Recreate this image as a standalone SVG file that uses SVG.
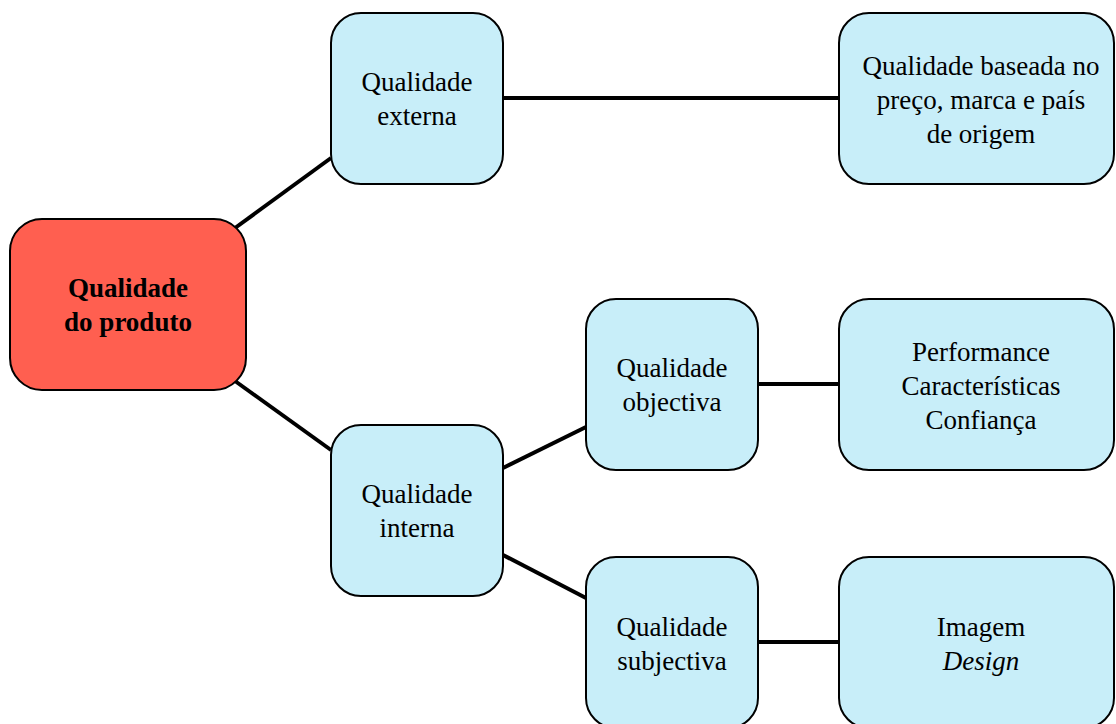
<svg xmlns="http://www.w3.org/2000/svg" width="1116" height="724" viewBox="0 0 1116 724">
  <style>
    .box { fill: #c8eef9; stroke: #000; stroke-width: 2; }
    .root { fill: #ff5f50; stroke: #000; stroke-width: 2; }
    .lbl { font-family: "Liberation Serif", "Times New Roman", serif; font-size: 27px; fill: #000; text-anchor: middle; }
    .bold { font-weight: bold; }
    .edge { stroke: #000; stroke-width: 4; fill: none; }
  </style>
  <rect width="1116" height="724" fill="#fff"/>

  <!-- connectors -->
  <g id="connectors">
    <line class="edge" x1="235" y1="228" x2="331" y2="158"/>
    <line class="edge" x1="235" y1="381" x2="331" y2="450"/>
    <line class="edge" x1="503" y1="98" x2="839" y2="98"/>
    <line class="edge" x1="503" y1="468" x2="586" y2="427"/>
    <line class="edge" x1="503" y1="555" x2="586" y2="598"/>
    <line class="edge" x1="758" y1="384" x2="839" y2="384"/>
    <line class="edge" x1="758" y1="642" x2="839" y2="642"/>
  </g>

  <!-- root -->
  <g id="qualidade-produto">
    <rect class="root" x="10" y="219" width="236" height="171" rx="32"/>
    <text class="lbl bold" x="128" y="297">Qualidade</text>
    <text class="lbl bold" x="128" y="331">do produto</text>
  </g>

  <g id="qualidade-externa">
    <rect class="box" x="331" y="13" width="172" height="171" rx="30"/>
    <text class="lbl" x="417" y="91">Qualidade</text>
    <text class="lbl" x="417" y="125">externa</text>
  </g>

  <g id="preco-marca-pais">
    <rect class="box" x="839" y="13" width="275" height="171" rx="30"/>
    <text class="lbl" x="981" y="75">Qualidade baseada no</text>
    <text class="lbl" x="981" y="109">preço, marca e país</text>
    <text class="lbl" x="981" y="143">de origem</text>
  </g>

  <g id="qualidade-interna">
    <rect class="box" x="331" y="425" width="172" height="171" rx="30"/>
    <text class="lbl" x="417" y="503">Qualidade</text>
    <text class="lbl" x="417" y="537">interna</text>
  </g>

  <g id="qualidade-objectiva">
    <rect class="box" x="586" y="299" width="172" height="171" rx="30"/>
    <text class="lbl" x="672" y="377">Qualidade</text>
    <text class="lbl" x="672" y="411">objectiva</text>
  </g>

  <g id="performance">
    <rect class="box" x="839" y="299" width="275" height="171" rx="30"/>
    <text class="lbl" x="981" y="361">Performance</text>
    <text class="lbl" x="981" y="395">Características</text>
    <text class="lbl" x="981" y="429">Confiança</text>
  </g>

  <g id="qualidade-subjectiva">
    <rect class="box" x="586" y="557" width="172" height="171" rx="30"/>
    <text class="lbl" x="672" y="636">Qualidade</text>
    <text class="lbl" x="672" y="670">subjectiva</text>
  </g>

  <g id="imagem-design">
    <rect class="box" x="839" y="557" width="275" height="171" rx="30"/>
    <text class="lbl" x="981" y="636">Imagem</text>
    <text class="lbl" x="981" y="670" font-style="italic">Design</text>
  </g>
</svg>
